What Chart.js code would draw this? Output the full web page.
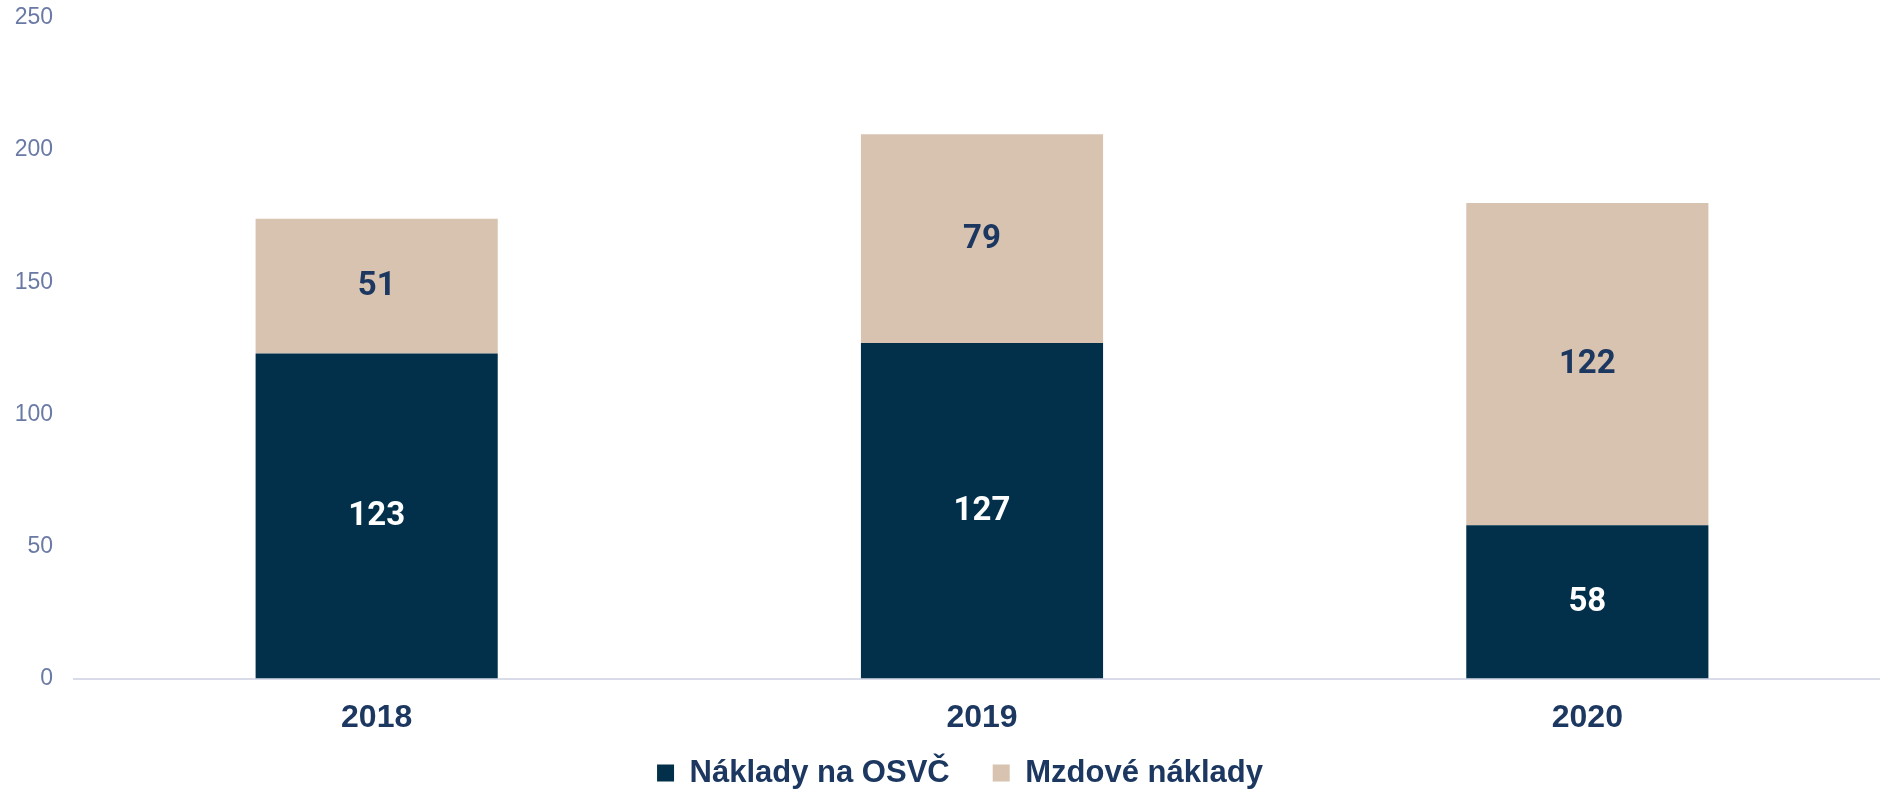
<!DOCTYPE html>
<html>
<head>
<meta charset="utf-8">
<script src="https://cdn.jsdelivr.net/npm/chart.js@4"></script>
<style>
  html, body { margin: 0; padding: 0; background: #fff; overflow: hidden; }
  #wrap { width: 1890px; height: 792px; }
</style>
</head>
<body>
<div id="wrap"><canvas id="graf"></canvas></div>
<script>
// roky
var roky = ['2018', '2019', '2020'];
// hodnoty
var naklady_osvc = [123, 127, 58];
var mzdove_naklady = [51, 79, 122];
var osa_y = [0, 50, 100, 150, 200, 250];

var tmava = '#02304a';
var bezova = '#d8c3b0';
var text_modra = '#1d3860';

// popisky uprostred sloupcu
var popisky = {
    id: 'popisky',
    afterDatasetsDraw: function (chart) {
        var ctx = chart.ctx;
        ctx.save();
        ctx.font = 'bold 33px "Roboto", sans-serif';
        ctx.textAlign = 'center';
        ctx.textBaseline = 'middle';
        chart.data.datasets.forEach(function (ds, i) {
            chart.getDatasetMeta(i).data.forEach(function (bar, j) {
                ctx.fillStyle = i === 0 ? '#ffffff' : text_modra;
                ctx.fillText(ds.data[j], bar.x, (bar.y + bar.base) / 2 + 1);
            });
        });
        ctx.restore();
    }
};

// legenda: nizsi box a posun
var upravaLegendy = {
    id: 'upravaLegendy',
    beforeLayout: function (chart) {
        var lg = chart.legend;
        if (lg && !lg._upraveno) {
            var puvodniFit = lg.fit;
            lg.fit = function () {
                puvodniFit.call(this);
                this.height = 35;
            };
            lg._upraveno = true;
        }
    },
    afterLayout: function (chart) {
        var lg = chart.legend;
        lg.left += 15;
        lg.right += 15;
        lg.top = 773 - 43 - 15.5;
        lg.height = lg.bottom - lg.top;
    }
};

var graf = new Chart(document.getElementById('graf'), {
    type: 'bar',
    data: {
        labels: roky,
        datasets: [{
            label: 'Náklady na OSVČ',
            data: naklady_osvc,
            backgroundColor: tmava,
            borderWidth: 0,
            categoryPercentage: 1,
            barPercentage: 0.4
        }, {
            label: 'Mzdové náklady',
            data: mzdove_naklady,
            backgroundColor: bezova,
            borderWidth: 0,
            categoryPercentage: 1,
            barPercentage: 0.4
        }]
    },
    options: {
        responsive: true,
        maintainAspectRatio: false,
        animation: false,
        layout: { padding: { top: 18, bottom: 0 } },
        scales: {
            x: {
                stacked: true,
                grid: { display: false, drawTicks: false },
                border: { display: true, color: '#d9dce8', width: 2 },
                ticks: {
                    padding: 20,
                    color: text_modra,
                    font: { family: '"Liberation Sans", Arial, sans-serif', size: 32, weight: 'bold' }
                }
            },
            y: {
                stacked: true,
                min: 0,
                max: 250,
                afterFit: function (scale) {
                    scale.width = 74;
                    scale.paddingTop = 0;
                },
                afterBuildTicks: function (scale) {
                    scale.ticks = osa_y.map(function (v) { return { value: v }; });
                },
                grid: { display: false, drawTicks: false },
                border: { display: false },
                ticks: {
                    padding: 21,
                    color: '#6a7aa5',
                    font: { family: '"Liberation Sans", Arial, sans-serif', size: 23 }
                }
            }
        },
        plugins: {
            tooltip: { enabled: false },
            legend: {
                position: 'bottom',
                labels: {
                    boxWidth: 17,
                    boxHeight: 17,
                    padding: 43,
                    color: text_modra,
                    font: { family: '"Liberation Sans", Arial, sans-serif', size: 31, weight: 'bold' }
                }
            }
        }
    },
    plugins: [popisky, upravaLegendy]
});
</script>
</body>
</html>
